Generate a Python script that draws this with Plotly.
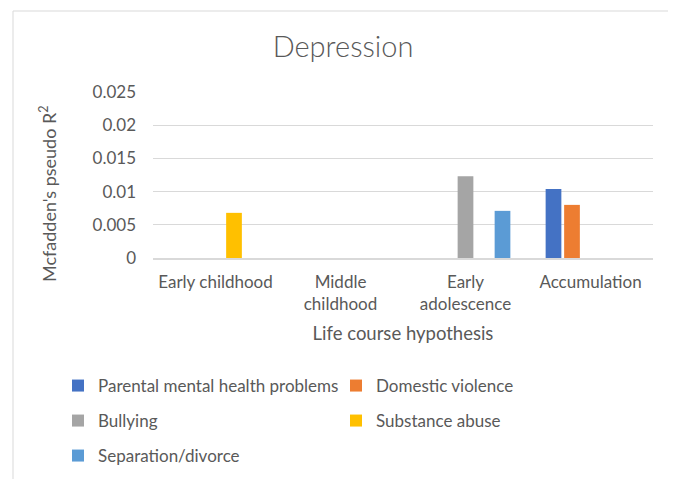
import plotly.graph_objects as go

categories = ["Early childhood", "Middle<br>childhood", "Early<br>adolescence", "Accumulation"]
series_names = ["Parental mental health problems", "Domestic violence", "Bullying",
                "Substance abuse", "Separation/divorce"]
series_values = [
    [None, None, None, 0.0104],
    [None, None, None, 0.0080],
    [None, None, 0.0123, None],
    [0.0068, None, None, None],
    [None, None, 0.0071, None],
]
colors = ["#4472C4", "#ED7D31", "#A5A5A5", "#FFC000", "#5B9BD5"]
legend_rows = ["legend", "legend", "legend2", "legend2", "legend3"]
ytick_vals = [0, 0.005, 0.01, 0.015, 0.02, 0.025]
ytick_text = ["0", "0.005", "0.01", "0.015", "0.02", "0.025"]
y_title = "Mcfadden's pseudo R<sup>2</sup>"

FONT = "Lato"
TXT = "#595959"

fig = go.Figure()
for name, vals, c, lg in zip(series_names, series_values, colors, legend_rows):
    fig.add_trace(go.Bar(name=name, x=categories, y=vals, legend=lg,
                         marker=dict(color=c, line=dict(width=0))))

OFF = 8  # page body margin
W, H = 676 - OFF, 479 - OFF
L, R = 153 - OFF, W - (653 - OFF)
T = 92 - OFF
B = H - (258 - OFF)
pw, ph = W - L - R, H - T - B


def px_x(p):
    return (p - OFF - L) / pw


def px_y(p):
    return (H - B - (p - OFF)) / ph


fig.add_shape(type="rect", xref="paper", yref="paper",
              x0=px_x(13), x1=px_x(674), y0=px_y(500), y1=px_y(11),
              line=dict(color="#D9D9D9", width=1), fillcolor="rgba(0,0,0,0)", layer="below")

fig.add_annotation(text=y_title, xref="paper", yref="paper", x=px_x(48), y=px_y(194),
                   xanchor="center", yanchor="middle", textangle=-90, showarrow=False,
                   font=dict(size=18, color=TXT, family=FONT))

legend_common = dict(orientation="h", xanchor="left", yanchor="middle",
                     entrywidth=233, entrywidthmode="pixels", traceorder="normal",
                     font=dict(size=17, color=TXT, family=FONT), itemwidth=30,
                     bgcolor="rgba(0,0,0,0)")
lx = px_x(58)

fig.update_layout(
    width=W, height=H,
    margin=dict(l=L, r=R, t=T, b=B, autoexpand=False),
    paper_bgcolor="white", plot_bgcolor="white",
    barmode="group", bargap=0.26, bargroupgap=0.15,
    font=dict(family=FONT, color=TXT, size=17),
    title=dict(text="Depression", x=(343 - OFF) / W, xref="container", xanchor="center",
               y=1 - (47 - OFF) / H, yref="container", yanchor="middle",
               font=dict(family=FONT, size=29, color=TXT, weight=300)),
    xaxis=dict(showgrid=False, showline=True, linecolor="#D9D9D9", linewidth=1.5,
               ticks="", tickfont=dict(size=17, color=TXT), ticklabelstandoff=8,
               title=dict(text="Life course hypothesis", font=dict(size=18.5, color=TXT), standoff=14)),
    yaxis=dict(range=[0, 0.025], tickvals=ytick_vals, ticktext=ytick_text,
               showgrid=True, gridcolor="#D9D9D9", gridwidth=1, zeroline=False,
               showline=False, ticks="", tickfont=dict(size=17, color=TXT), ticklabelstandoff=16),
    legend=dict(x=lx, y=px_y(386), **legend_common),
    legend2=dict(x=lx, y=px_y(421), **legend_common),
    legend3=dict(x=lx, y=px_y(456), **legend_common),
    showlegend=True,
)

fig.write_html("out.html")
